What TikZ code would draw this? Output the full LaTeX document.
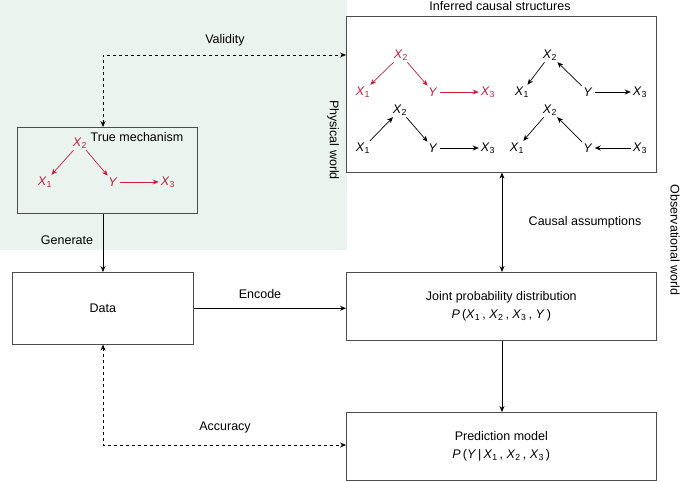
\documentclass[tikz,border=0pt]{standalone}
\usepackage{fontspec}
\setmainfont{Liberation Sans}
\usetikzlibrary{arrows.meta}
\definecolor{cred}{RGB}{200,30,60}
\definecolor{bgg}{RGB}{234,243,238}
\newcommand{\vx}[1]{\textit{X}\textsubscript{#1}}
\begin{document}
\begin{tikzpicture}[x=1pt,y=-1pt,
  every node/.style={font=\fontsize{12.5}{15}\selectfont},
  box/.style={draw=black!70,line width=0.6pt},
  v/.style={inner sep=1pt,font=\fontsize{12.5}{15}\selectfont},
  e/.style={-{Stealth[length=6pt,width=5pt]},line width=0.7pt,shorten >=1pt,shorten <=1pt},
  ar/.style={-{Stealth[length=6pt,width=5pt]},line width=0.7pt},
  lab/.style={inner sep=1pt}]
\useasboundingbox (0,0) rectangle (685,481);
\fill[bgg] (0,0) rectangle (347,250);
% boxes
\node[box,minimum width=310,minimum height=156,anchor=north west,inner sep=0] (inf) at (346,16) {};
\node[box,fill=bgg,minimum width=180,minimum height=86,anchor=north west,inner sep=0] (tm) at (17,127) {};
\node[box,fill=white,minimum width=181,minimum height=72,anchor=north west,inner sep=0] (data) at (12,272) {Data};
\node[box,minimum width=310,minimum height=68,anchor=north west,inner sep=0,align=center] (jp) at (346,272) {Joint probability distribution\\[3pt] \textit{P}\,(\vx1\,, \vx2\,, \vx3\,, \textit{Y}\,)};
\node[box,minimum width=310,minimum height=68,anchor=north west,inner sep=0,align=center] (pm) at (346,412) {Prediction model\\[3pt] \textit{P}\,(\textit{Y}\,|\,\vx1\,, \vx2\,, \vx3\,)};
\node[lab] (t1) at (500,6) {Inferred causal structures};
\node[lab] (t2) at (137,137) {True mechanism};
\node[lab,rotate=-90] (pw) at (333,140) {Physical world};
\node[lab,rotate=-90] (ow) at (675,240) {Observational world};
% true mechanism
\node[v,text=cred] (a2) at (80,143) {\vx2};
\node[v,text=cred] (a1) at (45,182) {\vx1};
\node[v,text=cred] (ay) at (113,182) {\textit{Y}};
\node[v,text=cred] (a3) at (168,182) {\vx3};
\draw[e,cred] (a2)--(a1); \draw[e,cred] (a2)--(ay); \draw[e,cred] (ay)--(a3);
% inferred red
\node[v,text=cred] (b2) at (401,55) {\vx2};
\node[v,text=cred] (b1) at (363,92) {\vx1};
\node[v,text=cred] (by) at (433,92) {\textit{Y}};
\node[v,text=cred] (b3) at (488,92) {\vx3};
\draw[e,cred] (b2)--(b1); \draw[e,cred] (b2)--(by); \draw[e,cred] (by)--(b3);
\node[v] (c2) at (400,110) {\vx2};
\node[v] (c1) at (363,148) {\vx1};
\node[v] (cy) at (433,148) {\textit{Y}};
\node[v] (c3) at (488,148) {\vx3};
\draw[e] (c1)--(c2); \draw[e] (c2)--(cy); \draw[e] (cy)--(c3);
\node[v] (d2) at (550,55) {\vx2};
\node[v] (d1) at (522,92) {\vx1};
\node[v] (dy) at (588,92) {\textit{Y}};
\node[v] (d3) at (640,92) {\vx3};
\draw[e] (d2)--(d1); \draw[e] (dy)--(d2); \draw[e] (dy)--(d3);
\node[v] (f2) at (550,110) {\vx2};
\node[v] (f1) at (517,148) {\vx1};
\node[v] (fy) at (588,148) {\textit{Y}};
\node[v] (f3) at (640,148) {\vx3};
\draw[e] (f2)--(f1); \draw[e] (fy)--(f2); \draw[e] (f3)--(fy);
% connectors
\coordinate (vc) at (103,55);
\draw[dashed,{Stealth[length=6pt,width=5pt]}-{Stealth[length=6pt,width=5pt]},line width=0.6pt] (tm.north -| vc) -- (vc) -- (inf.west |- vc);
\node[lab] at (225,40) {Validity};
\draw[ar] (tm.south -| vc) -- (data.north -| vc);
\node[lab] at (67,240) {Generate};
\draw[ar] (data.east) -- (data.east -| jp.west);
\node[lab] at (260,294) {Encode};
\draw[ar,{Stealth[length=6pt,width=5pt]}-{Stealth[length=6pt,width=5pt]}] (inf.south -| 502,0) -- (jp.north -| 502,0);
\node[lab] at (585,222) {Causal assumptions};
\draw[ar] (jp.south -| 502,0) -- (pm.north -| 502,0);
\coordinate (ac) at (103,445);
\draw[dashed,{Stealth[length=6pt,width=5pt]}-{Stealth[length=6pt,width=5pt]},line width=0.6pt] (data.south -| ac) -- (ac) -- (pm.west |- ac);
\node[lab] at (225,427) {Accuracy};
\end{tikzpicture}
\end{document}
